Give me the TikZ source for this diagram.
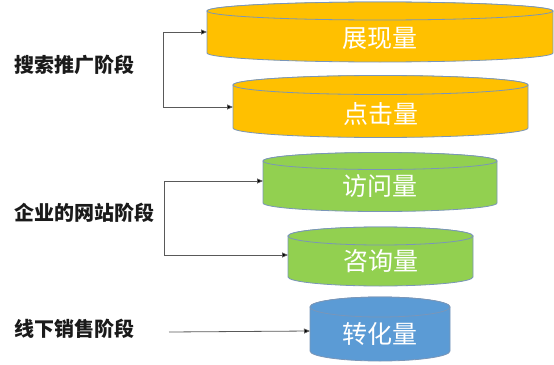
\documentclass[tikz,border=0pt]{standalone}
\usepackage{fontspec}
\newfontfamily\cjk{Noto Sans CJK SC}
\usetikzlibrary{arrows.meta}
\definecolor{cgold}{HTML}{FFC000}
\definecolor{cgreen}{HTML}{92D050}
\definecolor{cblue}{HTML}{5B9BD5}
\definecolor{cedge}{HTML}{7A96B8}
\definecolor{cline}{HTML}{595959}
\definecolor{ctext}{HTML}{1A1A1A}
\tikzset{
  cylbody/.style={draw=cedge, line width=0.8pt},
  cyltext/.style={text=white, inner sep=0pt, font=\cjk\fontsize{25}{30}\selectfont},
  stage/.style={text=ctext, inner sep=0pt, anchor=west, font=\cjk\bfseries\fontsize{20}{24}\selectfont},
  conn/.style={draw=cline, line width=0.8pt, -{Triangle[length=6pt,width=5pt,fill=black]}},
}
% name, xl, xr, ytop, ybot, ry, colour, text, ytext
\newcommand{\mycyl}[9]{%
  \pgfmathsetmacro{\cx}{(#2+#3)/2}%
  \pgfmathsetmacro{\rx}{(#3-#2)/2}%
  \path[cylbody, fill=#7] (#2,#4) -- (#2,#5)
     arc[start angle=180, end angle=360, x radius=\rx pt, y radius=#6pt]
     -- (#3,#4)
     arc[start angle=0, end angle=180, x radius=\rx pt, y radius=#6pt] -- cycle;
  \path[cylbody, fill=#7] (\cx,#4) ellipse[x radius=\rx pt, y radius=#6pt];
  \node[cyltext] (#1) at (\cx,#9) {#8};%
}
\begin{document}
\begin{tikzpicture}[x=1pt,y=-1pt]
\useasboundingbox (0,0) rectangle (554,364);
\mycyl{c1}{207}{553}{11}{53}{9}{cgold}{展现量}{38}
\mycyl{c2}{233}{528}{85}{128}{9.5}{cgold}{点击量}{114}
\mycyl{c3}{263}{497}{161}{203}{8.5}{cgreen}{访问量}{186}
\mycyl{c4}{288}{473}{236}{277}{9}{cgreen}{咨询量}{261}
\mycyl{c5}{310}{450}{307}{351}{10}{cblue}{转化量}{334}
\coordinate (c1w) at (207,32);
\coordinate (c2w) at (233,107);
\coordinate (c3w) at (263,181);
\coordinate (c4w) at (288,255);
\coordinate (c5w) at (310,331);
\node[stage] (s1) at (14,65) {搜索推广阶段};
\node[stage] (s2) at (14,213) {企业的网站阶段};
\node[stage] (s3) at (14,329) {线下销售阶段};
\coordinate (j1) at (163,32);
\coordinate (j2) at (164,181);
\coordinate (j3) at (169,332);
\draw[conn] (j1) |- (c2w);
\draw[conn] (j1) -- (c1w);
\draw[conn] (j2) |- (c4w);
\draw[conn] (j2) -- (c3w);
\draw[conn] (j3) -- (c5w);
\end{tikzpicture}
\end{document}
